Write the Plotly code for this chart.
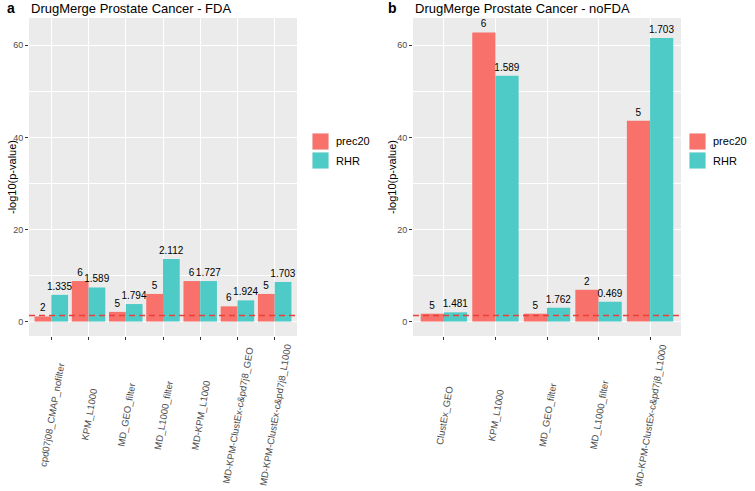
import plotly.graph_objects as go

# ---- data ----
cats_a = ["cpd07j08_CMAP_nofilter", "KPM_L1000", "MD_GEO_filter", "MD_L1000_filter",
          "MD-KPM_L1000", "MD-KPM-ClustEx-c&pd7j8_GEO", "MD-KPM-ClustEx-c&pd7j8_L1000"]
prec20_a = [1.1, 8.8, 2.1, 6.0, 8.8, 3.3, 6.0]
rhr_a = [5.8, 7.4, 3.8, 13.6, 8.8, 4.6, 8.6]
prec20_lab_a = ["2", "6", "5", "5", "6", "6", "5"]
rhr_lab_a = ["1.335", "1.589", "1.794", "2.112", "1.727", "1.924", "1.703"]

cats_b = ["ClustEx_GEO", "KPM_L1000", "MD_GEO_filter", "MD_L1000_filter",
          "MD-KPM-ClustEx-c&pd7j8_L1000"]
prec20_b = [1.7, 62.8, 1.7, 6.9, 43.6]
rhr_b = [2.0, 53.4, 3.0, 4.3, 61.6]
prec20_lab_b = ["5", "6", "5", "2", "5"]
rhr_lab_b = ["1.481", "1.589", "1.762", "0.469", "1.703"]

series_names = ["prec20", "RHR"]
threshold = 1.301

# ---- style ----
W, H = 755, 491
RED = "#F8716A"
TEAL = "#4FCBC7"
FONT = "Liberation Sans, Arial, sans-serif"
colors = [RED, TEAL]

def px(x):
    return x / W

def py(y):
    return 1 - y / H

fig = go.Figure()

for (cats, vals, labs), (xa, ya) in [
    ((cats_a, [prec20_a, rhr_a], [prec20_lab_a, rhr_lab_a]), ("x", "y")),
    ((cats_b, [prec20_b, rhr_b], [prec20_lab_b, rhr_lab_b]), ("x2", "y2")),
]:
    for i, name in enumerate(series_names):
        fig.add_trace(go.Bar(
            x=cats, y=vals[i], name=name, text=labs[i],
            textposition="outside", cliponaxis=False, constraintext="none",
            textfont=dict(size=10, color="black", family=FONT),
            marker=dict(color=colors[i], line=dict(width=0)),
            xaxis=xa, yaxis=ya, showlegend=False,
        ))

xcommon = dict(type="category", showticklabels=False, ticks="outside", ticklen=3,
               tickcolor="#333333", tickwidth=1, showgrid=True, gridcolor="white",
               gridwidth=1.1, zeroline=False, showline=False)
ycommon = dict(range=[-3.14, 65.94], tickmode="linear", tick0=0, dtick=20,
               ticks="outside", ticklen=3, tickcolor="#333333", tickwidth=1,
               tickfont=dict(size=9, color="#4D4D4D", family=FONT),
               showgrid=True, gridcolor="white", gridwidth=1.1, zeroline=False,
               showline=False,
               minor=dict(dtick=10, tick0=0, showgrid=True, gridcolor="white",
                          gridwidth=0.5, ticks=""))

fig.update_layout(
    width=W, height=H, margin=dict(l=0, r=0, t=0, b=0),
    paper_bgcolor="white", plot_bgcolor="#EBEBEB",
    barmode="group", bargap=0.1, bargroupgap=0,
    font=dict(family=FONT),
    xaxis=dict(domain=[px(29), px(297)], range=[-0.6, len(cats_a) - 0.4], anchor="y", **xcommon),
    xaxis2=dict(domain=[px(413), px(681)], range=[-0.6, len(cats_b) - 0.4], anchor="y2", **xcommon),
    yaxis=dict(domain=[py(336), py(18)], anchor="x", **ycommon),
    yaxis2=dict(domain=[py(336), py(18)], anchor="x2", **ycommon),
)

# threshold lines
for xr, yr in [("x domain", "y"), ("x2 domain", "y2")]:
    fig.add_shape(type="line", xref=xr, yref=yr, x0=0, x1=1, y0=threshold, y1=threshold,
                  layer="above", line=dict(color="#E8403A", width=1.4, dash="6px,4px"))

ann = []
# rotated category labels, centred under each tick
for cats, xr in [(cats_a, "x"), (cats_b, "x2")]:
    for c in cats:
        ann.append(dict(x=c, xref=xr, y=py(415), yref="paper", text=c, textangle=-80,
                        showarrow=False, xanchor="center", yanchor="middle",
                        font=dict(size=9.5, color="#4D4D4D", family=FONT)))

# titles and y-axis titles
for letter, title, lx, tx, yx in [("a", "DrugMerge Prostate Cancer - FDA", 5, 29, 12),
                                   ("b", "DrugMerge Prostate Cancer - noFDA", 386, 413, 392)]:
    ann.append(dict(x=px(lx), y=py(8), xref="paper", yref="paper", text="<b>%s</b>" % letter,
                    showarrow=False, xanchor="left", yanchor="middle",
                    font=dict(size=14, color="black", family=FONT)))
    ann.append(dict(x=px(tx), y=py(8), xref="paper", yref="paper", text=title,
                    showarrow=False, xanchor="left", yanchor="middle",
                    font=dict(size=13, color="black", family=FONT)))
    ann.append(dict(x=px(yx), y=py(177), xref="paper", yref="paper", text="-log10(p-value)",
                    textangle=-90, showarrow=False, xanchor="center", yanchor="middle",
                    font=dict(size=11, color="black", family=FONT)))

# manual legends (ggplot style keys)
for lx in [312, 689]:
    for i, name in enumerate(series_names):
        top = 133 + i * 19
        fig.add_shape(type="rect", xref="paper", yref="paper",
                      x0=px(lx), x1=px(lx + 17), y0=py(top + 17), y1=py(top),
                      fillcolor="#F2F2F2", line=dict(width=0), layer="above")
        fig.add_shape(type="rect", xref="paper", yref="paper",
                      x0=px(lx + 0.5), x1=px(lx + 16.5), y0=py(top + 16.5), y1=py(top + 0.5),
                      fillcolor=colors[i], line=dict(width=0), layer="above")
        ann.append(dict(x=px(lx + 22), y=py(top + 8.5), xref="paper", yref="paper", text=name,
                        showarrow=False, xanchor="left", yanchor="middle",
                        font=dict(size=11, color="black", family=FONT)))

fig.update_layout(annotations=ann)
fig.write_html("out.html", config={"displayModeBar": False},
               post_script="document.body.style.margin='0';document.body.style.padding='0';")
